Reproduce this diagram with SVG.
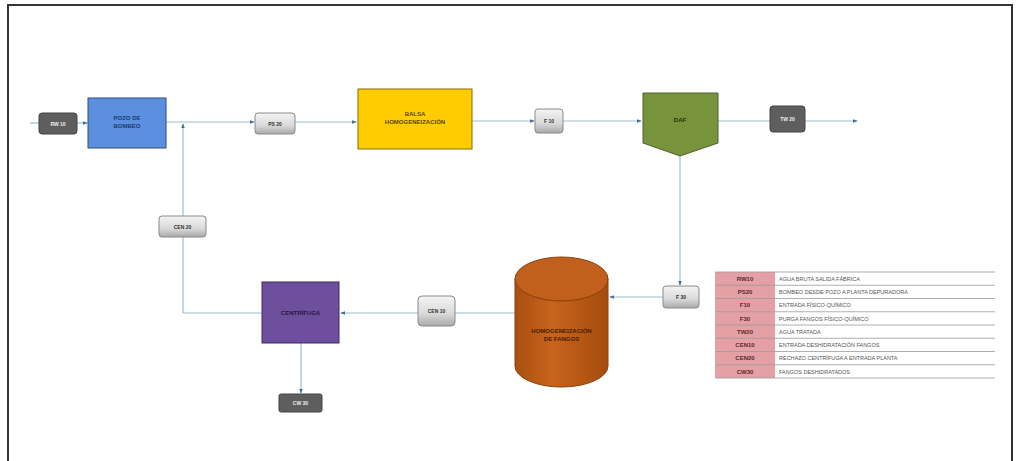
<svg xmlns="http://www.w3.org/2000/svg" width="1020" height="461" viewBox="0 0 1020 461">
<defs>
<linearGradient id="lg" x1="0" y1="0" x2="0" y2="1"><stop offset="0" stop-color="#f4f4f4"/><stop offset="0.6" stop-color="#d9d9d9"/><stop offset="1" stop-color="#a8a8a8"/></linearGradient>
<linearGradient id="cyl" x1="0" y1="0" x2="1" y2="0"><stop offset="0" stop-color="#a84f10"/><stop offset="0.4" stop-color="#c8641c"/><stop offset="1" stop-color="#a44c0e"/></linearGradient>
<marker id="ar" viewBox="0 0 6 6" refX="5" refY="3" markerWidth="4" markerHeight="4" orient="auto"><path d="M0,0.8 L6,3 L0,5.2 Z" fill="#3d6f99"/></marker>
</defs>
<style>
.c{fill:none;stroke:#9dbdd2;stroke-width:1.2}
.dk{fill:#5e5e5e;stroke:#444;stroke-width:1}
.lt{fill:url(#lg);stroke:#8a8a8a;stroke-width:1}
.bl{font-family:"Liberation Sans",Arial,sans-serif;font-size:5px;font-weight:bold;text-anchor:middle}
.w{fill:#f0f0f0}
.k{fill:#333}
.nt{font-family:"Liberation Sans",Arial,sans-serif;font-size:6px;font-weight:bold;text-anchor:middle}
.lk{font-family:"Liberation Sans",Arial,sans-serif;font-size:6px;font-weight:bold;text-anchor:middle;fill:#5a2a2a}
.ld{font-family:"Liberation Sans",Arial,sans-serif;font-size:5.5px;fill:#555}
.rl{stroke:#9a9a9a;stroke-width:0.8}
</style>
<rect x="0" y="0" width="1020" height="461" fill="#ffffff"/>
<path d="M8,461 V5 H1012 V461" fill="none" stroke="#333" stroke-width="2"/>

<g id="connectors">
<line class="c" x1="30" y1="123" x2="39" y2="123"/>
<line class="c" x1="77" y1="123" x2="87" y2="123" marker-end="url(#ar)"/>
<line class="c" x1="166" y1="122" x2="254" y2="122" marker-end="url(#ar)"/>
<line class="c" x1="295" y1="122" x2="356" y2="122" marker-end="url(#ar)"/>
<line class="c" x1="472" y1="121" x2="534" y2="121" marker-end="url(#ar)"/>
<line class="c" x1="563" y1="121" x2="641" y2="121" marker-end="url(#ar)"/>
<line class="c" x1="718" y1="121" x2="770" y2="121"/>
<line class="c" x1="805" y1="121" x2="857" y2="121" marker-end="url(#ar)"/>
<line class="c" x1="680" y1="156" x2="680" y2="285" marker-end="url(#ar)"/>
<line class="c" x1="663" y1="297" x2="610" y2="297" marker-end="url(#ar)"/>
<line class="c" x1="515" y1="313" x2="455" y2="313"/>
<line class="c" x1="418" y1="313" x2="341" y2="313" marker-end="url(#ar)"/>
<line class="c" x1="262" y1="313" x2="183" y2="313"/>
<line class="c" x1="183" y1="313" x2="183" y2="124" marker-end="url(#ar)"/>
<line class="c" x1="301" y1="343" x2="301" y2="393" marker-end="url(#ar)"/>
</g>

<g id="rw10"><rect class="dk" x="39" y="113" width="38" height="21" rx="3"/><text class="bl w" x="58" y="125.5">RW 10</text></g>
<g id="pozo"><rect x="88" y="98" width="78" height="50" fill="#5b8fe0" stroke="#2f4f7f" stroke-width="1"/><text class="nt" fill="#1f3a6e" x="127" y="120">POZO DE</text><text class="nt" fill="#1f3a6e" x="127" y="128">BOMBEO</text></g>
<g id="ps20"><rect class="lt" x="255" y="113" width="40" height="21" rx="3"/><text class="bl k" x="275" y="125.5">PS 20</text></g>
<g id="balsa"><rect x="358" y="89" width="114" height="60" fill="#ffcc00" stroke="#8a6d00" stroke-width="1"/><text class="nt" fill="#5a4500" x="415" y="116">BALSA</text><text class="nt" fill="#5a4500" x="415" y="124">HOMOGENEIZACIÓN</text></g>
<g id="f10"><rect class="lt" x="535" y="109" width="28" height="24" rx="3"/><text class="bl k" x="549" y="123">F 10</text></g>
<g id="daf"><path d="M643,93 H718 V143 L680,156 L643,143 Z" fill="#77933c" stroke="#4f6228" stroke-width="1"/><text class="nt" fill="#22300f" x="680" y="122">DAF</text></g>
<g id="tw20"><rect class="dk" x="770" y="106" width="35" height="26" rx="3"/><text class="bl w" x="787.5" y="121">TW 20</text></g>
<g id="f30"><rect class="lt" x="663" y="286" width="36" height="22" rx="3"/><text class="bl k" x="681" y="299">F 30</text></g>
<g id="homfangos">
<path d="M515,279 V366 A46.5,21 0 0 0 608,366 V279" fill="url(#cyl)" stroke="#8a3e08" stroke-width="1"/>
<ellipse cx="561.5" cy="279" rx="46.5" ry="22" fill="#c0601c" stroke="#8a3e08" stroke-width="1"/>
<text class="nt" fill="#4a1e00" x="561.5" y="333">HOMOGENEIZACIÓN</text><text class="nt" fill="#4a1e00" x="561.5" y="341">DE FANGOS</text></g>
<g id="cen10"><rect class="lt" x="418" y="296" width="37" height="30" rx="4"/><text class="bl k" x="436.5" y="313">CEN 10</text></g>
<g id="centrifuga"><rect x="262" y="282" width="77" height="61" fill="#6e4f9e" stroke="#3f2a60" stroke-width="1"/><text class="nt" fill="#2a163f" x="300.5" y="315">CENTRÍFUGA</text></g>
<g id="cen20"><rect class="lt" x="159" y="216" width="47" height="21" rx="3"/><text class="bl k" x="182.5" y="228.5">CEN 20</text></g>
<g id="cw30"><rect class="dk" x="279" y="394" width="43" height="18" rx="2"/><text class="bl w" x="300.5" y="405">CW 30</text></g>

<g id="legend">
<rect x="715" y="272" width="60" height="106" fill="#e5a0a6"/>
<g class="rl">
<line x1="715" y1="272" x2="995" y2="272"/><line x1="715" y1="285.25" x2="995" y2="285.25"/><line x1="715" y1="298.5" x2="995" y2="298.5"/><line x1="715" y1="311.75" x2="995" y2="311.75"/><line x1="715" y1="325" x2="995" y2="325"/><line x1="715" y1="338.25" x2="995" y2="338.25"/><line x1="715" y1="351.5" x2="995" y2="351.5"/><line x1="715" y1="364.75" x2="995" y2="364.75"/><line x1="715" y1="378" x2="995" y2="378"/>
</g>
<text class="lk" x="745" y="280.8">RW10</text><text class="ld" x="779" y="280.8">AGUA BRUTA SALIDA FÁBRICA</text>
<text class="lk" x="745" y="294">PS20</text><text class="ld" x="779" y="294">BOMBEO DESDE POZO A PLANTA DEPURADORA</text>
<text class="lk" x="745" y="307.3">F10</text><text class="ld" x="779" y="307.3">ENTRADA FÍSICO-QUÍMICO</text>
<text class="lk" x="745" y="320.5">F30</text><text class="ld" x="779" y="320.5">PURGA FANGOS FÍSICO-QUÍMICO</text>
<text class="lk" x="745" y="333.8">TW20</text><text class="ld" x="779" y="333.8">AGUA TRATADA</text>
<text class="lk" x="745" y="347">CEN10</text><text class="ld" x="779" y="347">ENTRADA DESHIDRATACIÓN FANGOS</text>
<text class="lk" x="745" y="360.3">CEN20</text><text class="ld" x="779" y="360.3">RECHAZO CENTRÍFUGA A ENTRADA PLANTA</text>
<text class="lk" x="745" y="373.5">CW30</text><text class="ld" x="779" y="373.5">FANGOS DESHIDRATADOS</text>
</g>
</svg>
